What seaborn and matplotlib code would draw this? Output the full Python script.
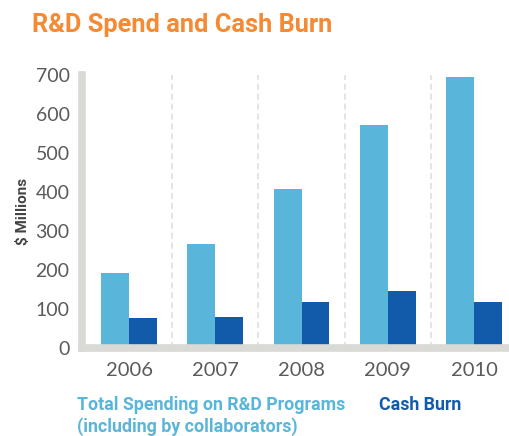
import matplotlib
matplotlib.use("Agg")
import matplotlib.pyplot as plt
import seaborn as sns
import pandas as pd

years = ["2006", "2007", "2008", "2009", "2010"]
rd_spend = [192, 266, 408, 572, 696]
cash_burn = [76, 78, 117, 146, 117]
series_names = ["Total Spending on R&D Programs\n(including by collaborators)", "Cash Burn"]
y_ticks = [0, 100, 200, 300, 400, 500, 600, 700]

light_blue = "#5AB5DB"
dark_blue = "#125BAA"
orange = "#F58A33"
spine_gray = "#D9D9D5"
text_gray = "#5A5A5A"

df = pd.DataFrame({
    "Year": years * 2,
    "Value": rd_spend + cash_burn,
    "Series": [series_names[0]] * len(years) + [series_names[1]] * len(years),
})

sns.set_style("white")
plt.rcParams["font.family"] = ["Lato", "DejaVu Sans"]

fig = plt.figure(figsize=(5.10, 4.36), dpi=100)
ax = fig.add_axes([0.161, 0.2025, 0.839, 0.6255])

sns.barplot(data=df, x="Year", y="Value", hue="Series",
            palette=[light_blue, dark_blue], width=0.646, gap=0,
            saturation=1, linewidth=0, ax=ax, legend=False)

# dashed separators between years
for k in range(len(years) - 1):
    ax.axvline(k + 0.5, color="#DDDDDD", lw=1.1, ls=(0, (4, 2.5)), zorder=0)

ax.set_xlim(-0.545, 4.417)
ax.set_ylim(0, 700)
ax.set_yticks(y_ticks)
ax.set_xlabel("")
ax.set_ylabel("$ Millions", fontsize=11, fontweight="bold", color="#444444",
              family=["Roboto", "DejaVu Sans"], labelpad=4)

for side in ["top", "right"]:
    ax.spines[side].set_visible(False)
for side in ["left", "bottom"]:
    ax.spines[side].set_color(spine_gray)
    ax.spines[side].set_linewidth(5.5)
    ax.spines[side].set_zorder(3)

ax.tick_params(axis="y", length=6.5, width=1.1, color=orange, pad=2.5,
               labelsize=14, labelcolor=text_gray, direction="out")
ax.tick_params(axis="x", length=0, pad=10, labelsize=14.5, labelcolor=text_gray)

fig.text(32 / 510, 1 - 25 / 436, "R&D Spend and Cash Burn", color=orange,
         fontsize=18.3, fontweight="bold", family=["Roboto", "DejaVu Sans"],
         ha="left", va="center")
fig.text(77 / 510, 1 - 396 / 436, series_names[0], color=light_blue,
         fontsize=12.8, fontweight="bold", family=["Roboto", "DejaVu Sans"],
         ha="left", va="top", linespacing=1.2)
fig.text(379 / 510, 1 - 396 / 436, series_names[1], color=dark_blue,
         fontsize=12.8, fontweight="bold", family=["Roboto", "DejaVu Sans"],
         ha="left", va="top")

fig.savefig("out.png", dpi=100)
